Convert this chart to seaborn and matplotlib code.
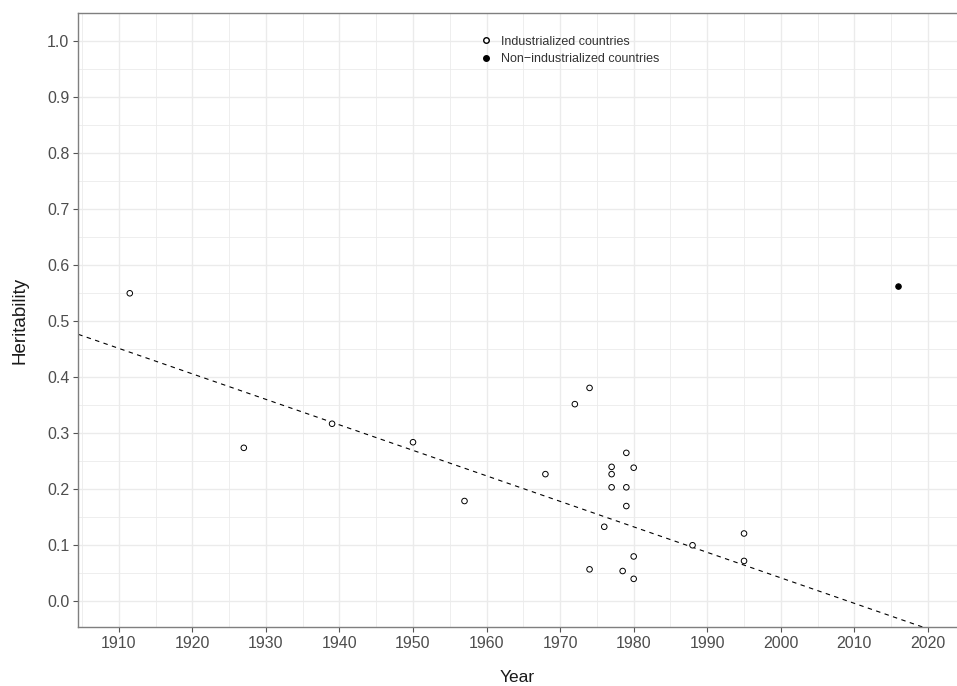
import matplotlib
matplotlib.use('Agg')
import matplotlib.pyplot as plt
from matplotlib.lines import Line2D
from matplotlib.ticker import MultipleLocator
import seaborn as sns
import pandas as pd

# industrialized countries (open circles)
ind_years = [1911.5, 1927, 1939, 1950, 1957, 1968, 1972, 1974, 1974, 1976,
             1977, 1977, 1977, 1978.5, 1979, 1979, 1979, 1980, 1980, 1980,
             1988, 1995, 1995]
ind_herit = [0.549, 0.273, 0.316, 0.283, 0.178, 0.226, 0.351, 0.380, 0.056, 0.132,
             0.239, 0.226, 0.2025, 0.053, 0.264, 0.2025, 0.169, 0.2375, 0.079, 0.039,
             0.099, 0.120, 0.071]
# non-industrialized countries (filled)
non_years = [2016]
non_herit = [0.561]

# meta-regression trend line
trend_slope = -0.004554
trend_year0 = 1970
trend_value0 = 0.1774

labels = ['Industrialized countries', 'Non\u2212industrialized countries']
x_ticks = list(range(1910, 2021, 10))
y_ticks = [0.0, 0.1, 0.2, 0.3, 0.4, 0.5, 0.6, 0.7, 0.8, 0.9, 1.0]

df = pd.DataFrame({
    'Year': ind_years + non_years,
    'Heritability': ind_herit + non_herit,
    'group': [labels[0]] * len(ind_years) + [labels[1]] * len(non_years),
})

sns.set_style('white')
plt.rcParams['font.family'] = ['Liberation Sans', 'DejaVu Sans']

fig = plt.figure(figsize=(9.57, 6.86), dpi=100)
ax = fig.add_axes([0.0818, 0.086, 0.9182, 0.8946])

ax.axline((trend_year0, trend_value0), slope=trend_slope, color='black',
          lw=0.8, linestyle=(0, (4, 4)), zorder=2)

sns.scatterplot(data=df, x='Year', y='Heritability', hue='group',
                palette={labels[0]: 'white', labels[1]: 'black'},
                edgecolor='black', linewidth=0.7, s=16, legend=False,
                ax=ax, zorder=3)

ax.set_xlim(1904.5, 2023.95)
ax.set_ylim(-0.047, 1.049)
ax.set_xticks(x_ticks)
ax.set_yticks(y_ticks)
ax.set_yticklabels([f'{v:.1f}' for v in y_ticks])
ax.xaxis.set_minor_locator(MultipleLocator(5))
ax.yaxis.set_minor_locator(MultipleLocator(0.05))
ax.grid(which='major', color='#ebebeb', lw=1.0)
ax.grid(which='minor', color='#ebebeb', lw=0.6)
ax.set_axisbelow(True)

for side in ['left', 'bottom', 'top']:
    ax.spines[side].set_color('#7f7f7f')
    ax.spines[side].set_linewidth(1.0)
ax.spines['right'].set_visible(False)

ax.tick_params(axis='both', which='major', direction='out', length=3.5,
               width=0.8, color='#555555', labelsize=11.5,
               labelcolor='#4d4d4d', pad=3, bottom=True, left=True)
ax.tick_params(which='minor', length=0)

ax.set_xlabel('Year', fontsize=12.5, color='#1a1a1a', labelpad=14)
ax.set_ylabel('Heritability', fontsize=13.5, color='#1a1a1a', labelpad=13)

handles = [
    Line2D([], [], marker='o', ls='none', markerfacecolor='white',
           markeredgecolor='black', markeredgewidth=1.0, markersize=4),
    Line2D([], [], marker='o', ls='none', markerfacecolor='black',
           markeredgecolor='black', markeredgewidth=1.0, markersize=4),
]
leg = ax.legend(handles, labels, loc='upper left', bbox_to_anchor=(0.4503, 0.9735),
                frameon=False, fontsize=9, handletextpad=0.7, labelspacing=0.45,
                handlelength=1.0, borderpad=0)
for t in leg.get_texts():
    t.set_color('#333333')

fig.savefig('out.png', dpi=100)
